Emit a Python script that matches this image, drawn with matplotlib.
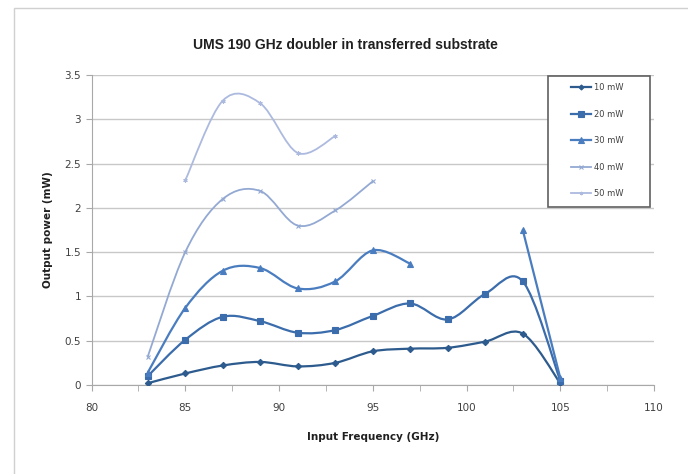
import numpy as np
import matplotlib
matplotlib.use("Agg")
import matplotlib.pyplot as plt
from matplotlib.path import Path
from matplotlib.patches import PathPatch, Rectangle
from matplotlib.lines import Line2D

# input frequency (GHz)
freq = [83, 85, 87, 89, 91, 93, 95, 97, 99, 101, 103, 105]
nan = np.nan

# output power (mW) per drive level
p10 = [0.02, 0.13, 0.22, 0.26, 0.21, 0.25, 0.38, 0.41, 0.42, 0.49, 0.58, 0.02]
p20 = [0.10, 0.51, 0.77, 0.72, 0.59, 0.62, 0.78, 0.92, 0.74, 1.03, 1.17, 0.05]
p30 = [0.14, 0.87, 1.29, 1.32, 1.09, 1.17, 1.52, 1.37, nan, nan, 1.75, 0.08]
p40 = [0.32, 1.50, 2.10, 2.19, 1.80, 1.97, 2.30, nan, nan, nan, nan, nan]
p50 = [nan, 2.31, 3.21, 3.18, 2.62, 2.81, nan, nan, nan, nan, nan, nan]

labels = ["10 mW", "20 mW", "30 mW", "40 mW", "50 mW"]
colors = ["#2d5b8e", "#3b6cab", "#4a7dc0", "#93a9d3", "#adbadf"]
markers = ["D", "s", "^", "x", (6, 2, 0)]
msizes = [3.2, 5, 5, 3, 3]
widths = [1.6, 1.6, 1.6, 1.3, 1.3]


def smooth_path(xs, ys):
    # excel-like smoothed line: cubic bezier, tangents from neighbours
    verts = [(xs[0], ys[0])]
    codes = [Path.MOVETO]
    n = len(xs)
    for i in range(n - 1):
        x0, y0 = xs[max(i - 1, 0)], ys[max(i - 1, 0)]
        x1, y1 = xs[i], ys[i]
        x2, y2 = xs[i + 1], ys[i + 1]
        x3, y3 = xs[min(i + 2, n - 1)], ys[min(i + 2, n - 1)]
        c1 = (x1 + (x2 - x0) / 6, y1 + (y2 - y0) / 6)
        c2 = (x2 - (x3 - x1) / 6, y2 - (y3 - y1) / 6)
        verts += [c1, c2, (x2, y2)]
        codes += [Path.CURVE4] * 3
    return Path(verts, codes)


fig = plt.figure(figsize=(6.88, 4.74), dpi=100)
fig.patches.append(Rectangle((14 / 688, -0.1), 1.2, 1 - 8 / 474 + 0.1,
                             transform=fig.transFigure, fill=False,
                             edgecolor="#d0d0d0", lw=1))
ax = fig.add_axes([0.133, 0.1878, 0.8176, 0.654])

series = [p10, p20, p30, p40, p50]
handles = []
for vals, lab, c, m, ms, lw in zip(series, labels, colors, markers, msizes, widths):
    x = np.array(freq, float)
    y = np.array(vals, float)
    ok = ~np.isnan(y)
    # split into continuous runs
    runs = []
    cur = []
    for xi, yi, k in zip(x, y, ok):
        if k:
            cur.append((xi, yi))
        elif cur:
            runs.append(cur)
            cur = []
    if cur:
        runs.append(cur)
    for r in runs:
        rx = [p[0] for p in r]
        ry = [p[1] for p in r]
        ax.add_patch(PathPatch(smooth_path(rx, ry), fill=False, edgecolor=c,
                               lw=lw, capstyle="round", zorder=3))
    ax.plot(x[ok], y[ok], ls="none", marker=m, ms=ms, color=c,
            mec=c, mew=0.8, zorder=4)
    handles.append(Line2D([], [], color=c, lw=lw, marker=m, ms=ms * 0.8,
                          mec=c, mew=0.8))

ax.set_xlim(80, 110)
ax.set_ylim(0, 3.5)
ax.set_xticks(np.arange(80, 111, 5))
ax.set_xticks(np.arange(80, 111, 2.5), minor=True)
ax.set_yticks(np.arange(0, 3.51, 0.5))
ax.set_yticklabels(["0", "0.5", "1", "1.5", "2", "2.5", "3", "3.5"])
ax.yaxis.grid(True, color="#c8c8c8", lw=1)
ax.set_axisbelow(True)
for s in ["top", "right"]:
    ax.spines[s].set_visible(False)
for s in ["left", "bottom"]:
    ax.spines[s].set_color("#a8a8a8")
ax.tick_params(axis="both", which="both", colors="#a8a8a8", labelcolor="#404040",
               labelsize=7.5, length=4, direction="out")
ax.tick_params(axis="x", pad=9)

fig.text(0.502, 0.905, "UMS 190 GHz doubler in transferred substrate",
         ha="center", va="center", fontsize=10, fontweight="bold",
         family="Liberation Sans", color="#202020")
ax.set_xlabel("Input Frequency (GHz)", fontsize=7.5, fontweight="bold",
              color="#202020", labelpad=14)
ax.set_ylabel("Output power (mW)", fontsize=7.5, fontweight="bold",
              color="#202020", labelpad=8)

# legend box drawn separately so it can be wider than its contents
ax.add_patch(Rectangle((0.8116, 0.574), 0.1813, 0.4228, transform=ax.transAxes,
                       fill=True, facecolor="white", edgecolor="#606060",
                       lw=1.2, zorder=5))
leg = ax.legend(handles, labels, loc="upper left",
                bbox_to_anchor=(0.852, 0.973), fontsize=6, frameon=False,
                labelspacing=2.1, handlelength=2.4, handletextpad=0.4,
                borderpad=0, borderaxespad=0, labelcolor="#404040")
leg.set_zorder(6)

fig.savefig("out.png", dpi=100)
